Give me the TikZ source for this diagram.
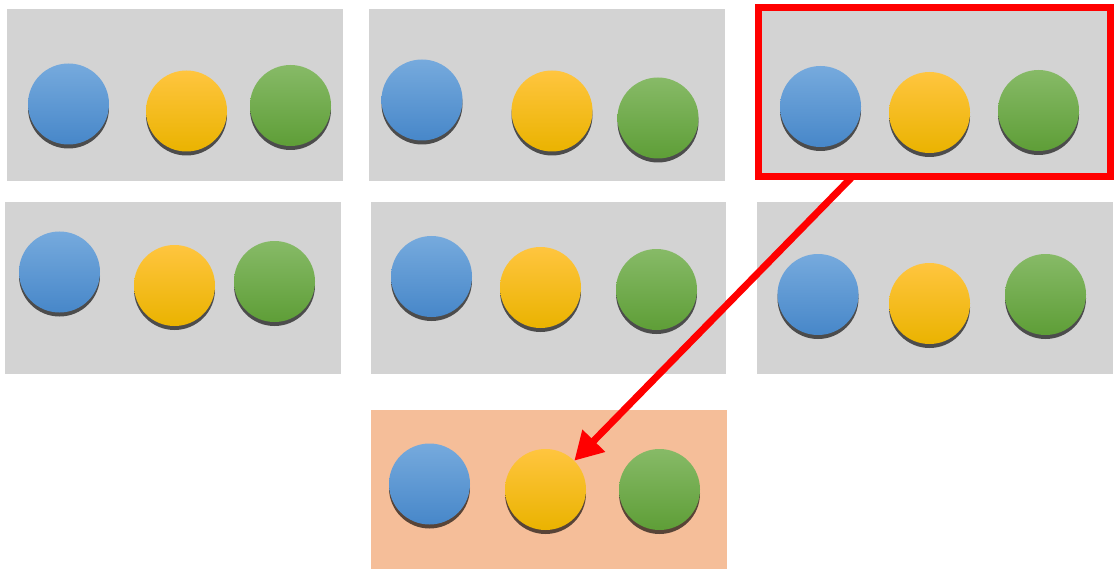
\documentclass[tikz,border=0pt]{standalone}
\usetikzlibrary{shadows,arrows.meta}
\definecolor{panelgrey}{HTML}{D3D3D3}
\definecolor{panelorange}{HTML}{F5BE99}
\definecolor{btop}{HTML}{76AADD}
\definecolor{bmid}{HTML}{5B9BD5}
\definecolor{bbot}{HTML}{4787C9}
\definecolor{ytop}{HTML}{FFC53F}
\definecolor{ymid}{HTML}{FFC000}
\definecolor{ybot}{HTML}{EAB300}
\definecolor{gtop}{HTML}{87BA67}
\definecolor{gmid}{HTML}{70AD47}
\definecolor{gbot}{HTML}{5E9E37}
\tikzset{
  panel/.style={fill=panelgrey, draw=none},
  ball/.style={circle, minimum size=81pt, inner sep=0pt, draw=none,
    drop shadow={shadow xshift=0pt, shadow yshift=-4pt, opacity=0.64, fill=black}},
  bball/.style={ball, top color=btop, middle color=bmid, bottom color=bbot},
  yball/.style={ball, top color=ytop, middle color=ymid, bottom color=ybot},
  gball/.style={ball, top color=gtop, middle color=gmid, bottom color=gbot},
  pick/.style={draw=red, line width=7pt},
  pointer/.style={draw=red, line width=7pt, -{Triangle[length=28pt,width=30pt]}}
}
\begin{document}
\begin{tikzpicture}[x=1pt,y=-1pt]
\useasboundingbox (0,0) rectangle (1115,569);
% panels
\fill[panel] (7,9) rectangle (343,181);
\fill[panel] (369,9) rectangle (725,181);
\fill[panel] (758,7.5) rectangle (1110,177);
\fill[panel] (5,202) rectangle (341,374);
\fill[panel] (371,202) rectangle (726,374);
\fill[panel] (757,202) rectangle (1113,374);
\fill[fill=panelorange] (371,410) rectangle (727,569);
% row 1
\node[bball] (b1) at (68.5,104) {};
\node[yball] (y1) at (186.5,111) {};
\node[gball] (g1) at (290.5,105.5) {};
\node[bball] (b2) at (422,100) {};
\node[yball] (y2) at (552,111) {};
\node[gball] (g2) at (658,118) {};
\node[bball] (b3) at (820.5,106.5) {};
\node[yball] (y3) at (929.5,112.5) {};
\node[gball] (g3) at (1038.5,110.5) {};
% row 2
\node[bball] (b4) at (59.5,272) {};
\node[yball] (y4) at (174.5,285.5) {};
\node[gball] (g4) at (274.5,281.5) {};
\node[bball] (b5) at (431.5,276.5) {};
\node[yball] (y5) at (540.5,287.5) {};
\node[gball] (g5) at (656.5,289.5) {};
\node[bball] (b6) at (818,294.5) {};
\node[yball] (y6) at (929.5,303.5) {};
\node[gball] (g6) at (1045.5,294.5) {};
% row 3
\node[bball] (b7) at (429.5,484) {};
\node[yball] (y7) at (545.5,489.5) {};
\node[gball] (g7) at (659.5,489.5) {};
% highlight
\node[pick, minimum width=352pt, minimum height=169.5pt, inner sep=0pt] (sel) at (934,92.25) {};
\coordinate (start) at (852,177);
\draw[pointer] (start) -- (y7.45);
\end{tikzpicture}
\end{document}
